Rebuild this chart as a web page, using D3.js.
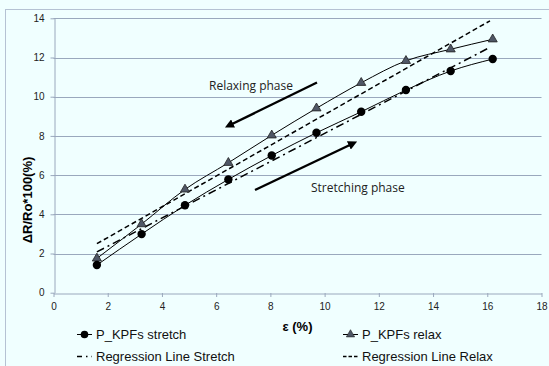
<!DOCTYPE html>
<html><head><meta charset="utf-8">
<script src="https://cdn.jsdelivr.net/npm/d3@7"></script>
<style>body{margin:0;background:#fff}svg{display:block}</style>
</head><body>
<script>
const strainX = [1.6, 3.25, 4.85, 6.45, 8.05, 9.7, 11.35, 13.0, 14.65, 16.2];
const stretchY = [1.41, 2.99, 4.46, 5.78, 7.0, 8.16, 9.23, 10.34, 11.31, 11.92];
const relaxY = [1.75, 3.5, 5.27, 6.63, 8.03, 9.41, 10.71, 11.83, 12.42, 12.93];
const regStretch = [[1.6, 2.08], [16.1, 12.52]];
const regRelax = [[1.6, 2.5], [16.1, 13.87]];
const xTicks = [0, 2, 4, 6, 8, 10, 12, 14, 16, 18];
const yTicks = [0, 2, 4, 6, 8, 10, 12, 14];
const seriesNames = ["P_KPFs stretch", "P_KPFs relax", "Regression Line Stretch", "Regression Line Relax"];

const W = 549, H = 366;
const svg = d3.select("body").append("svg").attr("width", W).attr("height", H);
svg.append("rect").attr("x", 0).attr("y", 0).attr("width", W).attr("height", H).attr("fill", "#F0FFFF");
svg.append("rect").attr("x", 5.5).attr("y", 9.5).attr("width", 600).attr("height", 400)
  .attr("fill", "none").attr("stroke", "#b5c2d3").attr("stroke-width", 1);

const x = d3.scaleLinear().domain([0, 18]).range([53.5, 541.5]);
const y = d3.scaleLinear().domain([0, 14]).range([292.7, 18.3]);

// gridlines
svg.append("g").selectAll("line").data(yTicks.filter(d => d > 0)).join("line")
  .attr("x1", x(0)).attr("x2", x(18))
  .attr("y1", d => Math.round(y(d)) + 0.5).attr("y2", d => Math.round(y(d)) + 0.5)
  .attr("stroke", "#9aa8bd").attr("stroke-width", 1);

const font = "'Liberation Sans', Arial, sans-serif";
// axes
const xa = svg.append("g").attr("transform", `translate(0,${Math.round(y(0)) + 0.5})`)
  .call(d3.axisBottom(x).tickValues(xTicks).tickSize(4).tickSizeOuter(0).tickPadding(5));
const ya = svg.append("g").attr("transform", `translate(${Math.round(x(0)) + 0.5},0)`)
  .call(d3.axisLeft(y).tickValues(yTicks).tickSize(4).tickSizeOuter(0).tickPadding(6));
[xa, ya].forEach(a => {
  a.select(".domain").attr("stroke", "#9aa8bd");
  a.selectAll(".tick line").attr("stroke", "#9aa8bd");
  a.selectAll("text").attr("font-family", font).attr("font-size", 10).attr("fill", "#222");
});
xa.selectAll(".tick line").attr("transform", "translate(0,-0.5)");

// axis titles
svg.append("text").attr("x", x(9)).attr("y", 331).attr("text-anchor", "middle")
  .attr("font-family", font).attr("font-size", 13).attr("font-weight", "bold").text("ε (%)");
svg.append("text").attr("transform", "translate(32,200) rotate(-90)").attr("text-anchor", "middle")
  .attr("font-family", font).attr("font-size", 13).attr("font-weight", "bold").text("ΔR/Ro*100(%)");

// regression lines
const line = d3.line().x(d => x(d[0])).y(d => y(d[1]));
svg.append("path").attr("d", line(regRelax)).attr("fill", "none").attr("stroke", "#000")
  .attr("stroke-width", 1.5).attr("stroke-dasharray", "5,3");
svg.append("path").attr("d", line(regStretch)).attr("fill", "none").attr("stroke", "#000")
  .attr("stroke-width", 1.5).attr("stroke-dasharray", "8,4,2,4");

// data lines
const stretch = strainX.map((v, i) => [v, stretchY[i]]);
const relax = strainX.map((v, i) => [v, relaxY[i]]);
const curve = d3.line().x(d => x(d[0])).y(d => y(d[1])).curve(d3.curveMonotoneX);
svg.append("path").attr("d", curve(relax)).attr("fill", "none").attr("stroke", "#000").attr("stroke-width", 1);
svg.append("path").attr("d", curve(stretch)).attr("fill", "none").attr("stroke", "#000").attr("stroke-width", 1);

const tri = d3.symbol().type(d3.symbolTriangle).size(36);
svg.append("g").selectAll("path").data(relax).join("path")
  .attr("d", tri).attr("transform", d => `translate(${x(d[0])},${y(d[1])})`)
  .attr("fill", "#4f5766").attr("stroke", "#222").attr("stroke-width", 0.8);
svg.append("g").selectAll("circle").data(stretch).join("circle")
  .attr("cx", d => x(d[0])).attr("cy", d => y(d[1])).attr("r", 4.2).attr("fill", "#000");

// annotations
const defs = svg.append("defs");
defs.append("marker").attr("id", "ah").attr("viewBox", "0 0 10 10").attr("refX", 5).attr("refY", 5)
  .attr("markerWidth", 3.8).attr("markerHeight", 3.8).attr("orient", "auto")
  .append("path").attr("d", "M0,0 L10,5 L0,10 z").attr("fill", "#000");
svg.append("line").attr("x1", 317).attr("y1", 82.5).attr("x2", 229).attr("y2", 125.5)
  .attr("stroke", "#000").attr("stroke-width", 2.4).attr("marker-end", "url(#ah)");
svg.append("line").attr("x1", 255).attr("y1", 190).attr("x2", 353).attr("y2", 143.5)
  .attr("stroke", "#000").attr("stroke-width", 2.4).attr("marker-end", "url(#ah)");
const afont = "'Open Sans', 'DejaVu Sans', sans-serif";
svg.append("text").attr("x", 209).attr("y", 89.5).attr("font-family", afont).attr("font-size", 12)
  .attr("fill", "#222").text("Relaxing phase");
svg.append("text").attr("x", 311).attr("y", 192).attr("font-family", afont).attr("font-size", 12)
  .attr("fill", "#222").text("Stretching phase");

// legend
const leg = svg.append("g").attr("font-family", font).attr("font-size", 13).attr("fill", "#111");
const lx = [77, 343], ly = [334.5, 356.5];
// stretch
leg.append("line").attr("x1", lx[0]).attr("x2", lx[0] + 15).attr("y1", ly[0]).attr("y2", ly[0]).attr("stroke", "#000");
leg.append("circle").attr("cx", lx[0] + 7.5).attr("cy", ly[0]).attr("r", 3.8).attr("fill", "#000");
leg.append("text").attr("x", lx[0] + 19).attr("y", ly[0] + 4.5).text(seriesNames[0]);
// relax
leg.append("line").attr("x1", lx[1]).attr("x2", lx[1] + 15).attr("y1", ly[0]).attr("y2", ly[0]).attr("stroke", "#000");
leg.append("path").attr("d", d3.symbol().type(d3.symbolTriangle).size(30))
  .attr("transform", `translate(${lx[1] + 7.5},${ly[0]})`).attr("fill", "#4f5766").attr("stroke", "#222").attr("stroke-width", 0.6);
leg.append("text").attr("x", lx[1] + 19).attr("y", ly[0] + 4.5).text(seriesNames[1]);
// reg stretch
leg.append("line").attr("x1", lx[0]).attr("x2", lx[0] + 15).attr("y1", ly[1]).attr("y2", ly[1])
  .attr("stroke", "#000").attr("stroke-width", 1.5).attr("stroke-dasharray", "5,4,1.5,4");
leg.append("text").attr("x", lx[0] + 19).attr("y", ly[1] + 4.5).text(seriesNames[2]);
// reg relax
leg.append("line").attr("x1", lx[1]).attr("x2", lx[1] + 15).attr("y1", ly[1]).attr("y2", ly[1])
  .attr("stroke", "#000").attr("stroke-width", 1.5).attr("stroke-dasharray", "3.5,2");
leg.append("text").attr("x", lx[1] + 19).attr("y", ly[1] + 4.5).text(seriesNames[3]);
</script>
</body></html>
